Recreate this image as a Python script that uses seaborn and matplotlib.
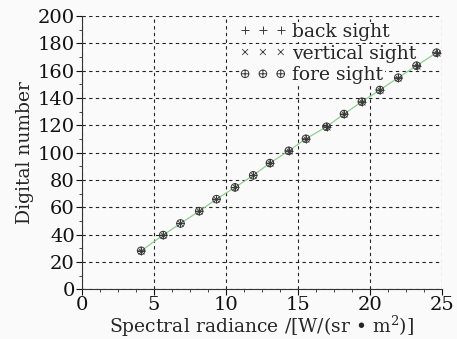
import numpy as np
import pandas as pd
import matplotlib
matplotlib.use('Agg')
import matplotlib.pyplot as plt
from matplotlib.ticker import MultipleLocator
from matplotlib.path import Path
from matplotlib.patches import Rectangle
from matplotlib.transforms import IdentityTransform
import seaborn as sns

# ========== DATA ==========
radiance = [4.12, 5.65, 6.85, 8.15, 9.35, 10.63, 11.9, 13.06, 14.37,
            15.56, 16.99, 18.2, 19.44, 20.69, 21.97, 23.24, 24.63]
back_sight = [28.1, 39.6, 48.1, 57.1, 65.9, 74.5, 83.3, 92.3, 101.3,
              110.1, 118.9, 128.2, 137.2, 145.8, 154.8, 163.6, 173.1]
vertical_sight = [28.1, 39.6, 48.1, 57.1, 65.9, 74.5, 83.3, 92.3, 101.3,
                  110.1, 118.9, 128.2, 137.2, 145.8, 154.8, 163.6, 173.1]
fore_sight = [28.1, 39.6, 48.1, 57.1, 65.9, 74.5, 83.3, 92.3, 101.3,
              110.1, 118.9, 128.2, 137.2, 145.8, 154.8, 163.6, 173.1]

df = pd.DataFrame({'x': radiance, 'back': back_sight,
                   'vertical': vertical_sight, 'fore': fore_sight})

# circle with a plus inside, drawn as outline only
cross = Path([(-1, 0), (1, 0), (0, -1), (0, 1)],
             [Path.MOVETO, Path.LINETO, Path.MOVETO, Path.LINETO])
oplus = Path.make_compound_path(Path.unit_circle(), cross)

# ========== STYLE ==========
sns.set_style('ticks')
plt.rcParams['font.family'] = ['DejaVu Serif']
plt.rcParams['mathtext.fontset'] = 'dejavuserif'

fs = 13.5
bg = '#fafafa'
fig = plt.figure(figsize=(4.57, 3.39), dpi=100, facecolor=bg)
ax = fig.add_axes([0.179, 0.147, 0.788, 0.806])
ax.set_facecolor(bg)

# fitted line
sns.lineplot(data=df, x='x', y='fore', ax=ax, color='#8fcf8f', lw=0.9,
             legend=False, zorder=2)

mk = '#3a3a3a'
sns.scatterplot(data=df, x='x', y='back', ax=ax, marker='+', s=36,
                color=mk, linewidth=0.7, label='back sight', zorder=6)
sns.scatterplot(data=df, x='x', y='vertical', ax=ax, marker='x', s=18,
                color=mk, linewidth=0.6, label='vertical sight', zorder=6)
sns.scatterplot(data=df, x='x', y='fore', ax=ax, marker=oplus, s=30,
                facecolors='none', edgecolors=mk, linewidth=0.7,
                label='fore sight', zorder=6)

ax.set_xlim(0, 25)
ax.set_ylim(0, 200)
ax.xaxis.set_major_locator(MultipleLocator(5))
ax.xaxis.set_minor_locator(MultipleLocator(1.25))
ax.yaxis.set_major_locator(MultipleLocator(20))
ax.yaxis.set_minor_locator(MultipleLocator(10))
ax.grid(True, which='major', ls=(0, (3, 3)), color='#222222', lw=0.8)
for s in ['top', 'right']:
    ax.spines[s].set_visible(False)
ax.spines['left'].set_color('#333333')
ax.spines['bottom'].set_color('#333333')
ax.tick_params(axis='both', which='major', labelsize=14, length=4, pad=1,
               colors='#111111')
ax.tick_params(axis='both', which='minor', length=2.5)

ax.set_xlabel('Spectral radiance /[W/(sr • m$^{2}$)]', fontsize=fs, labelpad=0)
ax.set_ylabel('Digital number', fontsize=fs, labelpad=3)

leg = ax.legend(loc='upper left', bbox_to_anchor=(0.43, 0.985), frameon=False,
                fontsize=fs, scatterpoints=3, scatteryoffsets=[0.5],
                handlelength=2.5, handletextpad=0.3,
                labelspacing=0.2, borderaxespad=0, borderpad=0.15)
for h in leg.legend_handles:
    h.set_alpha(1)

# each legend row hides the grid behind it
fig.canvas.draw()
renderer = fig.canvas.get_renderer()
lx0 = leg.get_window_extent(renderer).x0 + 3
for t in leg.get_texts():
    bb = t.get_window_extent(renderer)
    ax.add_patch(Rectangle((lx0, bb.y0 - 1), bb.x1 - lx0 + 2, bb.height + 2,
                           transform=IdentityTransform(), facecolor=bg,
                           edgecolor='none', zorder=1, clip_on=False))

plt.savefig('out.png', dpi=100, facecolor=fig.get_facecolor())
